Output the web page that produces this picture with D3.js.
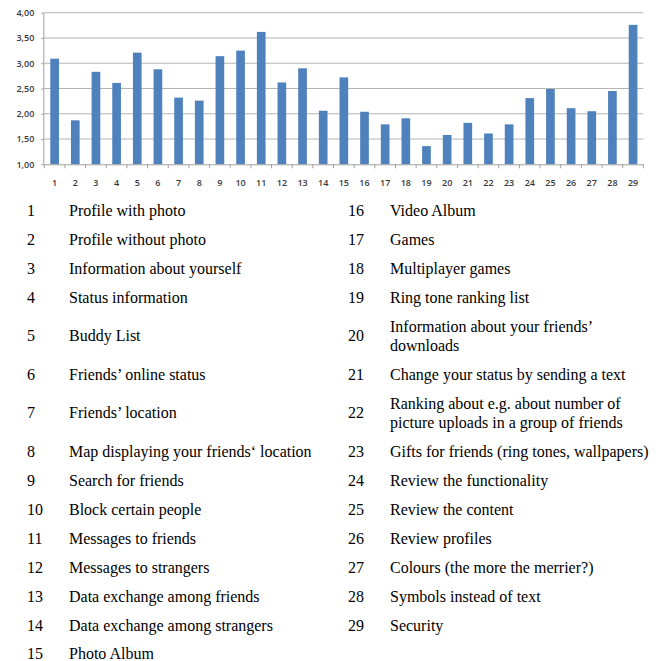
<!DOCTYPE html>
<html>
<head>
<meta charset="utf-8">
<script src="https://cdn.jsdelivr.net/npm/d3@7/dist/d3.min.js"></script>
<style>
html,body{margin:0;padding:0;background:#fff;}
svg{display:block;}
</style>
</head>
<body>
<svg id="c" width="659" height="661"></svg>
<script>
const categories = d3.range(1, 30).map(String);
const values = [3.09,1.87,2.83,2.61,3.21,2.88,2.32,2.26,3.14,3.25,3.62,2.62,2.90,2.06,
                2.72,2.04,1.79,1.91,1.36,1.58,1.82,1.61,1.79,2.31,2.49,2.11,2.05,2.45,3.76];
const yTicks = [1.0,1.5,2.0,2.5,3.0,3.5,4.0];
const labels = [
  ["Profile with photo"],["Profile without photo"],["Information about yourself"],["Status information"],
  ["Buddy List"],["Friends\u2019 online status"],["Friends\u2019 location"],["Map displaying your friends\u2018 location"],
  ["Search for friends"],["Block certain people"],["Messages to friends"],["Messages to strangers"],
  ["Data exchange among friends"],["Data exchange among strangers"],["Photo Album"],
  ["Video Album"],["Games"],["Multiplayer games"],["Ring tone ranking list"],
  ["Information about your friends\u2019","downloads"],["Change your status by sending a text"],
  ["Ranking about e.g. about number of","picture uploads in a group of friends"],
  ["Gifts for friends (ring tones, wallpapers)"],["Review the functionality"],["Review the content"],
  ["Review profiles"],["Colours (the more the merrier?)"],["Symbols instead of text"],["Security"]
];

const svg = d3.select("#c");
const m = {left:44.3, right:643.4, top:12.7, bottom:164.3};
const x = d3.scaleBand().domain(categories).range([m.left, m.right]).paddingInner(0.58).paddingOuter(0.29);
const xb = d3.scaleBand().domain(categories).range([m.left, m.right]);
const y = d3.scaleLinear().domain([1,4]).range([m.bottom, m.top]);

// gridlines
svg.append("g").selectAll("line").data(yTicks.slice(1)).join("line")
  .attr("x1", m.left).attr("x2", m.right)
  .attr("y1", d=>y(d)).attr("y2", d=>y(d))
  .attr("stroke","#b4b4b4").attr("stroke-width",1);

// bars
svg.append("g").selectAll("rect").data(values).join("rect")
  .attr("x",(d,i)=>x(categories[i]))
  .attr("width", x.bandwidth())
  .attr("y", d=>y(d))
  .attr("height", d=>y(1)-y(d))
  .attr("fill","#4f81bd");

const tickFont = sel => sel.attr("fill","#3a3a3a")
  .style("font-family","'Open Sans', sans-serif")
  .style("font-size","9px").style("font-weight","600");

// y axis
const ya = svg.append("g").attr("transform",`translate(${m.left},0)`)
  .call(d3.axisLeft(y).tickValues(yTicks).tickSize(3).tickPadding(7)
    .tickFormat(d=>d3.format(".2f")(d).replace(".",",")));
ya.select(".domain").attr("stroke","#a0a0a0").attr("d",`M-0.5,${m.top}V${m.bottom}`);
ya.selectAll(".tick line").attr("stroke","#a0a0a0");
ya.selectAll("text").call(tickFont);

// x axis
const xa = svg.append("g").attr("transform",`translate(0,${m.bottom})`)
  .call(d3.axisBottom(xb).tickSize(0).tickPadding(15));
xa.select(".domain").attr("stroke","#a0a0a0").attr("d",`M${m.left},0.5H${m.right}`);
xa.selectAll("text").call(tickFont);
// category separator ticks
const seps = [m.left].concat(categories.slice(1).map(c=>xb(c))).concat([m.right]);
xa.append("g").selectAll("line").data(seps).join("line")
  .attr("x1",d=>d).attr("x2",d=>d)
  .attr("y1",0).attr("y2",4).attr("stroke","#a0a0a0");

// table
const rowH1 = 29, rowH2 = 48;
const nRows = 15;
const rowHeights = d3.range(nRows).map(r=>{
  const a = labels[r], b = labels[r+15];
  const lines = Math.max(a ? a.length : 1, b ? b.length : 1);
  return lines > 1 ? rowH2 : rowH1;
});
const rowTop = [195.5];
rowHeights.forEach((h,i)=>rowTop.push(rowTop[i]+h));
const cols = [{num:27, txt:69}, {num:348, txt:390}];
const tbl = svg.append("g").style("font-family","'Liberation Serif', 'Times New Roman', serif")
  .style("font-size","16px").attr("fill","#000");
labels.forEach((lab,i)=>{
  const col = i < 15 ? 0 : 1;
  const r = i < 15 ? i : i - 15;
  const cy = rowTop[r] + rowHeights[r]/2 - (r === 14 ? 0.5 : 0);
  tbl.append("text").attr("x",cols[col].num).attr("y",cy).attr("dy","0.35em").text(i+1);
  const lh = 19;
  lab.forEach((line,k)=>{
    tbl.append("text").attr("x",cols[col].txt)
      .attr("y", cy + (k - (lab.length-1)/2)*lh).attr("dy","0.35em").text(line);
  });
});
</script>
</body>
</html>
